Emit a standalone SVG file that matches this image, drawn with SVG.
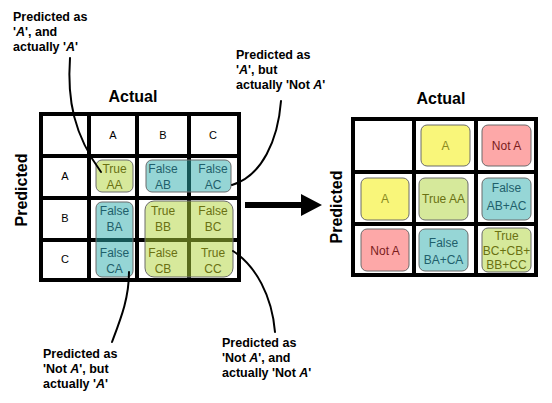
<svg xmlns="http://www.w3.org/2000/svg" width="552" height="403" viewBox="0 0 552 403">
<style>
.title{font-family:"Liberation Sans",Arial,sans-serif;font-weight:bold;font-size:16px;fill:#000}
.hdr{font-family:"Liberation Sans",Arial,sans-serif;font-size:11px;fill:#000;text-anchor:middle}
.grid{stroke:#000;stroke-width:4;fill:none}
.box{stroke:#6a6a6a;stroke-width:1}
.tbox{fill:#afd337;fill-opacity:0.5}
.fbox{fill:#2babab;fill-opacity:0.5}
.gbox{fill:#d6e99b}
.cbox{fill:#96d6d6}
.ybox{fill:#f9f67a}
.pbox{fill:#fda8a8}
.bt{font-family:"Liberation Sans",Arial,sans-serif;font-size:12px;text-anchor:middle}
.tt{fill:#6a7112}
.ft{fill:#1f5f6b}
.yt{fill:#8a8a20}
.pt{fill:#7a1c1c}
.note{font-family:"Liberation Sans",Arial,sans-serif;font-weight:bold;font-size:12.5px;fill:#000}
.lead{stroke:#000;stroke-width:2;fill:none;stroke-linecap:round}
</style>

<!-- Left matrix -->
<g id="left-matrix">
  <text class="title" x="133" y="102" text-anchor="middle">Actual</text>
  <text class="title" transform="translate(27,190) rotate(-90)" text-anchor="middle">Predicted</text>
  <path class="grid" d="M41,114H239V280H41Z M89,114V280 M137,114V280 M189,114V280 M41,156H239 M41,198H239 M41,240H239"/>
  <text class="hdr" x="113" y="139">A</text>
  <text class="hdr" x="163" y="139">B</text>
  <text class="hdr" x="213" y="139">C</text>
  <text class="hdr" x="65" y="180">A</text>
  <text class="hdr" x="65" y="222">B</text>
  <text class="hdr" x="65" y="263">C</text>
</g>
<g id="cell-AA">
  <rect class="box tbox" x="96" y="160" width="37" height="32" rx="6"/>
  <text class="bt tt" x="114.5" y="173">True</text>
  <text class="bt tt" x="114.5" y="189">AA</text>
</g>
<g id="cell-AB-AC">
  <rect class="box fbox" x="146" y="160" width="85" height="32" rx="6"/>
  <text class="bt ft" x="163" y="173">False</text>
  <text class="bt ft" x="163" y="189">AB</text>
  <text class="bt ft" x="213" y="173">False</text>
  <text class="bt ft" x="213" y="189">AC</text>
</g>
<g id="cell-BA-CA">
  <rect class="box fbox" x="96" y="202" width="37" height="75" rx="6"/>
  <text class="bt ft" x="114.5" y="215">False</text>
  <text class="bt ft" x="114.5" y="231">BA</text>
  <text class="bt ft" x="114.5" y="257">False</text>
  <text class="bt ft" x="114.5" y="273">CA</text>
</g>
<g id="cell-BB-CC">
  <rect class="box tbox" x="145" y="201" width="88" height="76" rx="9"/>
  <text class="bt tt" x="163" y="215">True</text>
  <text class="bt tt" x="163" y="231">BB</text>
  <text class="bt tt" x="213" y="215">False</text>
  <text class="bt tt" x="213" y="231">BC</text>
  <text class="bt tt" x="163" y="257">False</text>
  <text class="bt tt" x="163" y="273">CB</text>
  <text class="bt tt" x="213" y="257">True</text>
  <text class="bt tt" x="213" y="273">CC</text>
</g>

<!-- Notes -->
<g id="note-TA">
  <text class="note" x="13" y="21">Predicted as</text>
  <text class="note" x="13" y="36">'<tspan font-style="italic">A</tspan>', and</text>
  <text class="note" x="13" y="51">actually '<tspan font-style="italic">A</tspan>'</text>
</g>
<g id="note-FA">
  <text class="note" x="236" y="59">Predicted as</text>
  <text class="note" x="236" y="74">'<tspan font-style="italic">A</tspan>', but</text>
  <text class="note" x="236" y="89">actually 'Not <tspan font-style="italic">A</tspan>'</text>
</g>
<g id="note-FN">
  <text class="note" x="43" y="358">Predicted as</text>
  <text class="note" x="43" y="373">'Not <tspan font-style="italic">A</tspan>', but</text>
  <text class="note" x="43" y="388">actually '<tspan font-style="italic">A</tspan>'</text>
</g>
<g id="note-TN">
  <text class="note" x="222" y="347">Predicted as</text>
  <text class="note" x="222" y="362">'Not <tspan font-style="italic">A</tspan>', and</text>
  <text class="note" x="222" y="377">actually 'Not <tspan font-style="italic">A</tspan>'</text>
</g>

<!-- Right matrix -->
<g id="right-matrix">
  <text class="title" x="441" y="104" text-anchor="middle">Actual</text>
  <text class="title" transform="translate(342,207) rotate(-90)" text-anchor="middle">Predicted</text>
  <path class="grid" d="M353,119H536V275H353Z M414,119V275 M476,119V275 M353,172H536 M353,224H536" stroke-width="4.5"/>
</g>
<g id="r-head-A">
  <rect class="box ybox" x="421" y="125" width="49" height="41" rx="6"/>
  <text class="bt yt" x="445.5" y="150">A</text>
</g>
<g id="r-head-NotA">
  <rect class="box pbox" x="482" y="125" width="49" height="41" rx="6"/>
  <text class="bt pt" x="506.5" y="150">Not A</text>
</g>
<g id="r-pred-A">
  <rect class="box ybox" x="361" y="178" width="48" height="42" rx="6"/>
  <text class="bt yt" x="385" y="203">A</text>
</g>
<g id="r-TrueAA">
  <rect class="box gbox" x="419" y="178" width="49" height="42" rx="6"/>
  <text class="bt tt" x="443.5" y="203">True AA</text>
</g>
<g id="r-FalseABAC">
  <rect class="box cbox" x="482" y="178" width="49" height="42" rx="6"/>
  <text class="bt ft" x="506.5" y="192">False</text>
  <text class="bt ft" x="506.5" y="210">AB+AC</text>
</g>
<g id="r-pred-NotA">
  <rect class="box pbox" x="361" y="229" width="48" height="42" rx="6"/>
  <text class="bt pt" x="385" y="255">Not A</text>
</g>
<g id="r-FalseBACA">
  <rect class="box cbox" x="419" y="229" width="49" height="42" rx="6"/>
  <text class="bt ft" x="443.5" y="247">False</text>
  <text class="bt ft" x="443.5" y="264">BA+CA</text>
</g>
<g id="r-TrueRest">
  <rect class="box gbox" x="482" y="228" width="49" height="44" rx="6"/>
  <text class="bt tt" x="506.5" y="240">True</text>
  <text class="bt tt" x="506.5" y="255">BC+CB+</text>
  <text class="bt tt" x="506.5" y="269">BB+CC</text>
</g>

<!-- Connectors -->
<g id="connectors">
  <path class="lead" d="M70,58 C67,100 74,135 101,172"/>
  <path class="lead" d="M281,101 C278,140 262,176 232,185"/>
  <path class="lead" d="M112,342 C121,318 129,298 129,272"/>
  <path class="lead" d="M233,251 C256,266 272,296 275,332"/>
  <path d="M245,202 H301 V194 L322,205 L301,216 V208 H245 Z" fill="#000"/>
</g>
</svg>
